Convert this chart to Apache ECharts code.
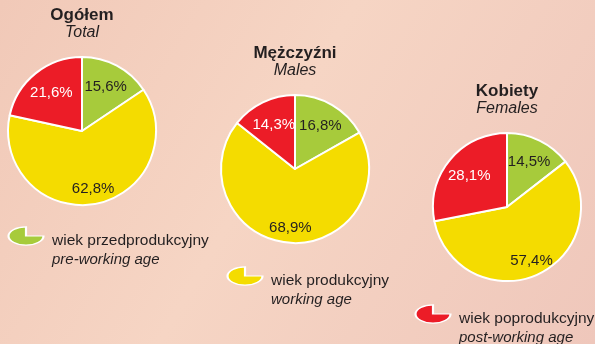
<!DOCTYPE html>
<html>
<head>
<meta charset="utf-8">
<script src="https://cdn.jsdelivr.net/npm/echarts@6/dist/echarts.min.js"></script>
<style>
  html, body { margin: 0; padding: 0; }
  #chart { width: 595px; height: 344px; }
</style>
</head>
<body>
<div id="chart"></div>
<script>
// Age groups, in the order drawn clockwise from 12 o'clock
const groupsPl = ['wiek przedprodukcyjny', 'wiek produkcyjny', 'wiek poprodukcyjny'];
const groupsEn = ['pre-working age', 'working age', 'post-working age'];
const groupColors = ['#a7cb3b', '#f4dc00', '#ec1c27'];
const labelColors = ['#231f20', '#231f20', '#ffffff'];

// Population shares (%)
const titlesPl = ['Ogółem', 'Mężczyźni', 'Kobiety'];
const titlesEn = ['Total', 'Males', 'Females'];
const totalShares = [15.6, 62.8, 21.6];
const maleShares = [16.8, 68.9, 14.3];
const femaleShares = [14.5, 57.4, 28.1];
const allShares = [totalShares, maleShares, femaleShares];

// Layout of the three pies and their headings
const pieCenters = [[82, 131], [295, 169], [507, 207]];
const titleTops = [7, 45, 83];
const pieRadius = 74;
// how far out (share of the radius) each group's value label sits
const labelReach = [0.68, 0.80, 0.66];
const FONT = '"Liberation Sans", Arial, sans-serif';
const INK = '#231f20';

const fmt = v => v.toFixed(1).replace('.', ',') + '%';

const chart = echarts.init(document.getElementById('chart'), null, { renderer: 'canvas' });

const series = [];
const titles = [];
allShares.forEach((shares, k) => {
  const data = shares.map((v, i) => ({
    name: groupsPl[i],
    value: v,
    itemStyle: { color: groupColors[i] },
    label: { color: labelColors[i] }
  }));
  const [cx, cy] = pieCenters[k];
  // coloured slices
  series.push({
    type: 'pie',
    center: pieCenters[k],
    radius: [0, pieRadius],
    startAngle: 90,
    clockwise: true,
    silent: true,
    animation: false,
    itemStyle: { borderColor: '#ffffff', borderWidth: 2 },
    label: { show: false },
    labelLine: { show: false },
    data: data
  });
  // value labels, pushed out along each slice's bisector
  series.push({
    type: 'pie',
    center: pieCenters[k],
    radius: [0, pieRadius],
    startAngle: 90,
    clockwise: true,
    silent: true,
    animation: false,
    itemStyle: { color: 'rgba(0,0,0,0)', borderWidth: 0 },
    label: {
      show: true,
      position: 'inside',
      fontFamily: FONT,
      fontSize: 15,
      formatter: p => fmt(p.value)
    },
    labelLine: { show: false },
    labelLayout: p => {
      const r = p.labelRect;
      const mx = r.x + r.width / 2 - cx;
      const my = r.y + r.height / 2 - cy;
      const d = Math.sqrt(mx * mx + my * my) || 1;
      const s = (pieRadius * labelReach[p.dataIndex]) / d;
      return { dx: mx * s - mx, dy: my * s - my };
    },
    data: data.map(d => ({ name: d.name, value: d.value, label: d.label }))
  });
  titles.push({
    text: titlesPl[k],
    subtext: titlesEn[k],
    left: cx,
    top: titleTops[k],
    textAlign: 'center',
    padding: 0,
    itemGap: 1,
    textStyle: { fontFamily: FONT, fontSize: 17, fontWeight: 'bold', color: INK },
    subtextStyle: { fontFamily: FONT, fontSize: 16, fontStyle: 'italic', color: INK }
  });
});

// Key entries: a flattened pie icon with a quarter cut out, plus two-language text
const keyPos = [[26, 236], [245, 276], [433, 314]];
const graphics = [];
groupsPl.forEach((name, i) => {
  const [x, y] = keyPos[i];
  graphics.push({
    type: 'sector',
    x: x, y: y,
    scaleY: 0.52,
    silent: true,
    shape: { cx: 0, cy: 0, r0: 0, r: 17.5, startAngle: 0, endAngle: Math.PI * 1.5, clockwise: true },
    style: { fill: groupColors[i], stroke: '#ffffff', lineWidth: 2.2, strokeNoScale: true }
  });
  graphics.push({
    type: 'text',
    x: x + 26, y: y + 5,
    silent: true,
    style: { text: name, font: '15.5px ' + FONT, fill: INK, textVerticalAlign: 'middle' }
  });
  graphics.push({
    type: 'text',
    x: x + 26, y: y + 24,
    silent: true,
    style: { text: groupsEn[i], font: 'italic 15px ' + FONT, fill: INK, textVerticalAlign: 'middle' }
  });
});

chart.setOption({
  backgroundColor: {
    type: 'linear', x: 0, y: 0, x2: 1, y2: 1,
    colorStops: [
      { offset: 0, color: '#f1c9b8' },
      { offset: 0.45, color: '#f6d5c4' },
      { offset: 1, color: '#efc7bb' }
    ]
  },
  animation: false,
  title: titles,
  series: series,
  graphic: graphics
});
</script>
</body>
</html>
